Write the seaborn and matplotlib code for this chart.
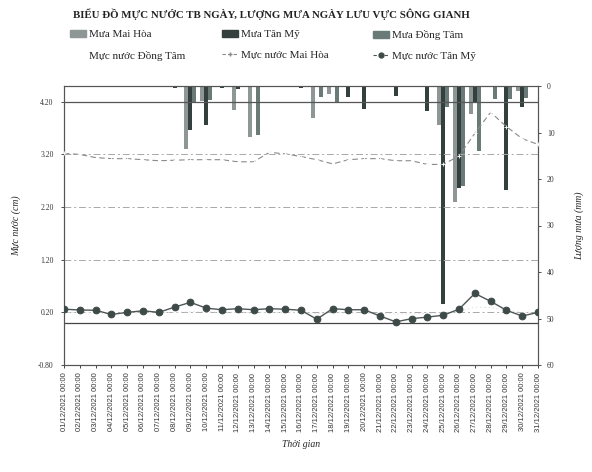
import matplotlib
matplotlib.use("Agg")
import matplotlib.pyplot as plt
import numpy as np
import pandas as pd
import seaborn as sns
from matplotlib.patches import Patch
from matplotlib.lines import Line2D

# ---- data -------------------------------------------------------------
days = [f"{d:02d}/12/2021 00:00" for d in range(1, 32)]

# daily mean water level (m)
level_mai_hoa = [3.22, 3.20, 3.14, 3.12, 3.12, 3.10, 3.08, 3.09, 3.10, 3.10,
                 3.10, 3.06, 3.06, 3.24, 3.21, 3.16, 3.10, 3.02, 3.10, 3.12,
                 3.12, 3.08, 3.08, 3.01, 3.01, 3.17, 3.60, 4.00, 3.73, 3.50, 3.39]
level_tan_my = [0.26, 0.245, 0.24, 0.16, 0.20, 0.23, 0.20, 0.30, 0.39, 0.28,
                0.25, 0.27, 0.25, 0.27, 0.26, 0.24, 0.07, 0.27, 0.25, 0.25,
                0.13, 0.02, 0.08, 0.11, 0.145, 0.26, 0.56, 0.41, 0.24, 0.13, 0.20]
level_dong_tam = [0.20, 0.20, 0.19, 0.18, 0.19, 0.19, 0.19, 0.20, 0.21, 0.21,
                  0.20, 0.20, 0.20, 0.20, 0.20, 0.19, 0.18, 0.19, 0.19, 0.19,
                  0.18, 0.17, 0.17, 0.18, 0.19, 0.22, 0.30, 0.29, 0.24, 0.20, 0.20]

# daily rainfall (mm)
rain_mai_hoa = [0, 0.3, 0, 0, 0, 0, 0, 0, 13.5, 3.3,
                0, 5.2, 11.0, 0, 0, 0, 6.9, 1.7, 0, 0,
                0, 0, 0, 0, 8.4, 24.9, 6.1, 0, 0, 1.0, 0]
rain_tan_my = [0, 0, 0, 0.3, 0, 0, 0, 0.4, 9.5, 8.4,
               0.5, 0.6, 0, 0, 0, 0.4, 0, 0, 2.4, 4.9,
               0, 2.2, 0, 5.4, 46.8, 22.0, 3.5, 0, 22.4, 4.5, 0]
rain_dong_tam = [0, 0, 0, 0, 0, 0, 0, 0, 3.5, 3.0,
                 0, 0, 10.6, 0, 0, 0, 2.4, 3.4, 0, 0,
                 0, 0, 0, 0, 4.5, 21.5, 14.0, 2.7, 2.7, 2.5, 0]

stations_rain = ["Mưa Mai Hòa", "Mưa Tân Mỹ", "Mưa Đồng Tâm"]
rain_colors = ["#8e9696", "#33403e", "#6a7a77"]

# ---- figure -----------------------------------------------------------
sns.set_theme(style="white")
plt.rcParams["font.family"] = ["Liberation Serif", "DejaVu Serif"]

fig = plt.figure(figsize=(5.92, 4.72), dpi=100)
ax = fig.add_axes([64 / 592, 1 - 365 / 472, (538 - 64) / 592, (365 - 86) / 472])
ax2 = ax.twinx()

n = len(days)
pos = np.arange(n)

rain_df = pd.DataFrame({
    "day": np.tile(pos, 3),
    "mm": rain_mai_hoa + rain_tan_my + rain_dong_tam,
    "station": np.repeat(stations_rain, n),
})
sns.barplot(data=rain_df, x="day", y="mm", hue="station", hue_order=stations_rain,
            palette=rain_colors, width=0.75, saturation=1, ax=ax2, legend=False,
            linewidth=0, errorbar=None)
ax2.set_ylim(60, 0)
ax2.set_yticks(range(0, 61, 10))
ax2.set_ylabel("Lượng mưa (mm)", fontsize=7, style="italic", rotation=90, labelpad=14)
ax2.set_xlabel("")
ax2.tick_params(axis="y", labelsize=5.5, length=2.5, width=0.6, pad=4, colors="#333333",
                right=True, direction="out")

ax.set_zorder(ax2.get_zorder() + 1)
ax.patch.set_visible(False)

# reference and grid lines
for g in [3.2, 2.2, 1.2, 0.2]:
    ax.axhline(g, color="#a8a8a8", lw=0.7, ls=(0, (7, 3, 2, 3)), zorder=1)
ax.axhline(4.2, color="#555555", lw=0.9, zorder=1)
ax.axhline(0.0, color="#444444", lw=0.9, zorder=1)

sns.lineplot(x=pos, y=level_dong_tam, ax=ax, color="#dedede", lw=0.6,
             ls=(0, (2, 3)), zorder=2)
sns.lineplot(x=pos, y=level_mai_hoa, ax=ax, color="#8a8a8a", lw=0.8,
             ls=(0, (5, 3)), marker="+", markersize=3, markeredgewidth=0.6, zorder=3)
sns.lineplot(x=pos, y=level_tan_my, ax=ax, color="#4d5654", lw=1.0,
             marker="o", markersize=4.8, markerfacecolor="#3d4a48",
             markeredgecolor="#3d4a48", zorder=4)

ax.set_ylim(-0.8, 4.5)
ax.set_yticks([-0.8, 0.2, 1.2, 2.2, 3.2, 4.2])
ax.set_yticklabels(["-0.80", "0.20", "1.20", "2.20", "3.20", "4.20"])
ax.set_ylabel("Mực nước (cm)", fontsize=7, style="italic", labelpad=12)
ax.tick_params(axis="y", labelsize=5.5, length=2.5, width=0.6, pad=5, colors="#333333",
               left=True, direction="out")

ax.set_xlim(0, n - 1)
ax.set_xticks(pos)
ax.set_xticklabels(days, rotation=90, fontsize=5.5, family="Liberation Sans", color="#333333")
ax.tick_params(axis="x", length=2.5, width=0.6, pad=3, bottom=True, direction="out")
ax.set_xlabel("Thời gian", fontsize=7, style="italic", labelpad=6)

for a in (ax, ax2):
    for s in a.spines.values():
        s.set_color("#555555")
        s.set_linewidth(0.8)

fig.suptitle("BIỂU ĐỒ MỰC NƯỚC TB NGÀY, LƯỢNG MƯA NGÀY LƯU VỰC SÔNG GIANH",
             x=0.458, y=0.982, fontsize=7.8, fontweight="bold", color="#222222")

# legend, three columns
legend_cols = [
    (70, [Patch(color=rain_colors[0]), Line2D([], [], color="white", lw=0)],
     ["Mưa Mai Hòa", "Mực nước Đồng Tâm"]),
    (222, [Patch(color=rain_colors[1]),
           Line2D([], [], color="#8a8a8a", lw=0.8, ls=(0, (3, 2)), marker="+", markersize=3)],
     ["Mưa Tân Mỹ", "Mực nước Mai Hòa"]),
    (373, [Patch(color=rain_colors[2]),
           Line2D([], [], color="#4d5654", lw=0.8, ls=(0, (3, 2)), marker="o", markersize=3.5,
                  markerfacecolor="#3d4a48", markeredgecolor="#3d4a48")],
     ["Mưa Đồng Tâm", "Mực nước Tân Mỹ"]),
]
for x0, handles, labels in legend_cols:
    fig.legend(handles, labels, loc="upper left", bbox_to_anchor=(x0 / 592, 1 - 30 / 472),
               frameon=False, fontsize=8, handlelength=1.4, handleheight=0.6,
               handletextpad=0.3, labelspacing=1.0, borderpad=0, borderaxespad=0)

fig.savefig("out.png", dpi=100)
